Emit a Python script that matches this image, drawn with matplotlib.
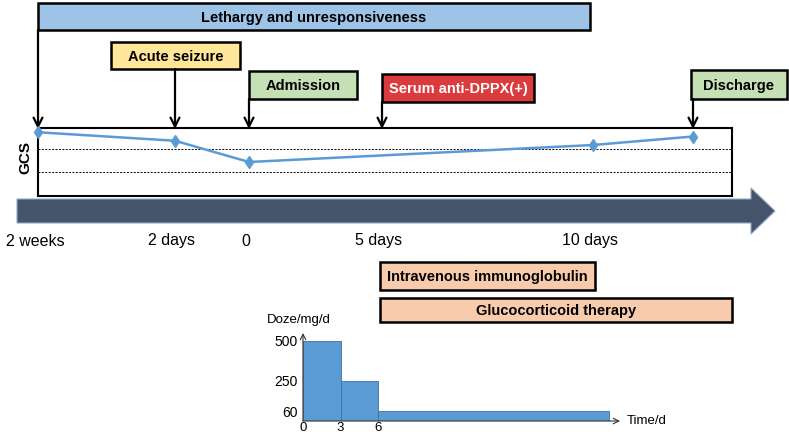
import numpy as np
import matplotlib
matplotlib.use("Agg")
import matplotlib.pyplot as plt
from matplotlib.patches import Rectangle, Polygon

plt.rcParams['font.family'] = ['Liberation Sans', 'DejaVu Sans']

# ---------------- data ----------------
# timeline tick labels and their day values
tick_days = [-14, -2, 0, 5, 10]
tick_labels = ["2 weeks", "2 days", "0", "5 days", "10 days"]

# events (label, day)
event_labels = ["Lethargy and unresponsiveness", "Acute seizure", "Admission",
                "Serum anti-DPPX(+)", "Discharge"]
event_days = [-14, -2, 0, 5, 12]

# GCS course
gcs_days = [-14, -2, 0, 10, 12]
gcs_values = [15, 13, 8, 12, 14]

# treatments
treatment_labels = ["Intravenous immunoglobulin", "Glucocorticoid therapy"]

# glucocorticoid dose schedule
dose_start = [0, 3, 6]
dose_duration = [3, 3, 18.5]
dose_mg = [500, 250, 60]
dose_ticks = [60, 250, 500]
time_ticks = [0, 3, 6]

# ---------------- layout (pixel coordinates) ----------------
W, H = 789, 438
# nonlinear timeline: day -> pixel x
anchor_days = [-14, -2, 0, 5, 10, 12]
anchor_px = [38, 175, 249, 382, 593, 693]
def day2px(d):
    return np.interp(d, anchor_days, anchor_px)

fig = plt.figure(figsize=(W / 100, H / 100), dpi=100)
ax = fig.add_axes([0, 0, 1, 1])
ax.set_xlim(0, W)
ax.set_ylim(H, 0)
ax.axis('off')

BLUE_BOX = '#9DC3E6'
YELLOW = '#FFE699'
GREEN = '#C5E0B4'
RED = '#DC3B3E'
PEACH = '#F8CBAD'
NAVY = '#44546A'

def box(x0, y0, x1, y1, fc, text, tx=None, color='black', fs=10.5):
    ax.add_patch(Rectangle((x0, y0), x1 - x0, y1 - y0, facecolor=fc,
                           edgecolor='black', lw=1.8, zorder=3))
    if tx is None:
        tx = (x0 + x1) / 2
    ax.text(tx, (y0 + y1) / 2 + 1.5, text, ha='center', va='center',
            fontsize=fs, fontweight='bold', color=color, zorder=4)

gcs_top = 128

# event boxes: (x0, y0, x1, y1, color, text colour)
event_boxes = [
    (38, 3, 590, 30, BLUE_BOX, 'black'),
    (111, 42, 240, 69, YELLOW, 'black'),
    (249, 71, 357, 99, GREEN, 'black'),
    (382, 74, 534, 102, RED, 'white'),
    (691, 70, 787, 99, GREEN, 'black'),
]
for (x0, y0, x1, y1, fc, tc), lab, d in zip(event_boxes, event_labels, event_days):
    box(x0, y0, x1, y1, fc, lab, color=tc)
    xa = day2px(d)
    ax.annotate('', xy=(xa, gcs_top + 1), xytext=(xa, y1),
                arrowprops=dict(arrowstyle='->', lw=1.6, color='black',
                                mutation_scale=16, shrinkA=0, shrinkB=0),
                zorder=5)

# big timeline arrow
ax.add_patch(Polygon([(17, 199), (751, 199), (751, 188), (775, 211),
                      (751, 234), (751, 223), (17, 223)],
                     closed=True, facecolor=NAVY, edgecolor='#8FAACC', lw=0.8,
                     zorder=2))
for d, lab in zip(tick_days, tick_labels):
    ax.text(day2px(d) - 3, 241, lab, ha='center', va='center', fontsize=11.5)

# treatment boxes
box(380, 262, 595, 290, PEACH, treatment_labels[0])
box(380, 298, 732, 322, PEACH, treatment_labels[1])

# GCS label
ax.text(25, 158, "GCS", rotation=90, ha='center', va='center',
        fontsize=11, fontweight='bold')

# ---------------- GCS panel ----------------
gx0, gx1, gy0, gy1 = 38, 732, 128, 196
gax = fig.add_axes([gx0 / W, 1 - gy1 / H, (gx1 - gx0) / W, (gy1 - gy0) / H])
gax.set_xlim(gx0, gx1)
gax.set_ylim(0, 16)
gax.patch.set_alpha(0)
for s in gax.spines.values():
    s.set_linewidth(1.5)
gax.set_xticks([])
gax.set_yticks([])
gax.axhline(11, color='black', ls=(0, (2, 1.5)), lw=0.7)
gax.axhline(5.6, color='black', ls=(0, (2, 1.5)), lw=0.7)
gax.plot(day2px(np.array(gcs_days)), gcs_values, color='#5B9BD5', lw=1.8,
         marker='d', markersize=6, clip_on=False, zorder=5)

# ---------------- dose inset ----------------
ix0, ix1, iy0, iy1 = 303, 620, 333, 421
iax = fig.add_axes([ix0 / W, 1 - iy1 / H, (ix1 - ix0) / W, (iy1 - iy0) / H])
iax.set_xlim(0, (ix1 - ix0) / 12.5)
iax.set_ylim(0, 550)
iax.patch.set_alpha(0)
iax.bar(dose_start, dose_mg, width=dose_duration, align='edge',
        color='#5B9BD5', edgecolor='#41719C', lw=0.6)
for s in iax.spines.values():
    s.set_visible(False)
iax.annotate('', xy=(0, 1.0), xytext=(0, 0), xycoords='axes fraction',
             arrowprops=dict(arrowstyle='->', lw=0.8, color='#333333',
                             shrinkA=0, shrinkB=0))
iax.annotate('', xy=(1.0, 0), xytext=(0, 0), xycoords='axes fraction',
             arrowprops=dict(arrowstyle='->', lw=0.8, color='#333333',
                             shrinkA=0, shrinkB=0))
iax.set_yticks(dose_ticks)
iax.set_yticklabels([str(v) for v in dose_ticks], fontsize=10)
iax.set_xticks(time_ticks)
iax.set_xticklabels([str(v) for v in time_ticks], fontsize=9.5)
iax.tick_params(axis='y', length=0, pad=4)
iax.tick_params(axis='x', length=0, pad=1)
ax.text(267, 320, "Doze/mg/d", ha='left', va='center', fontsize=9.5)
ax.text(627, 421, "Time/d", ha='left', va='center', fontsize=9.5)

fig.savefig("out.png", dpi=100)
